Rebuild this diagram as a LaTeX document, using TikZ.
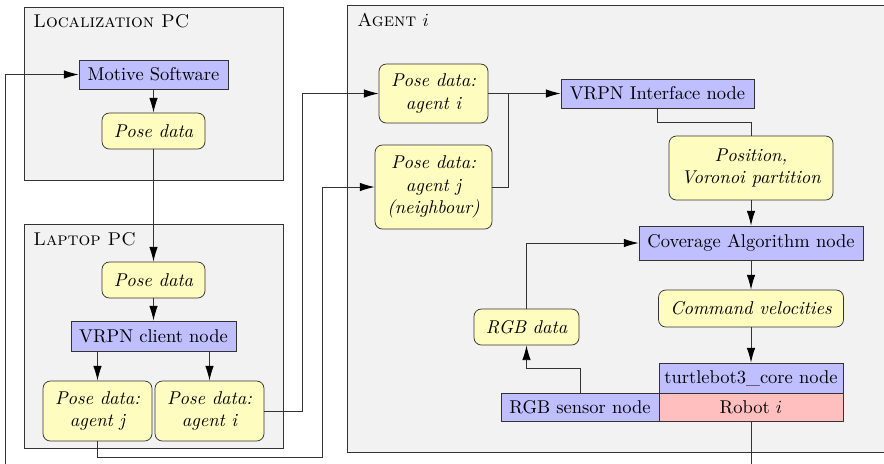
\documentclass[tikz,border=0pt]{standalone}
\usetikzlibrary{arrows.meta}
\begin{document}
\begin{tikzpicture}[x=0.5405pt,y=-0.5405pt,
  container/.style={draw=black!80, fill=gray!10, line width=0.5pt},
  sz/.style 2 args={minimum width=#1*0.5405pt, minimum height=#2*0.5405pt},
  procbox/.style={draw=black!80, fill=blue!25, rectangle, inner sep=0pt, align=center},
  robbox/.style={draw=black!80, fill=red!25, rectangle, inner sep=0pt, align=center},
  databox/.style={draw=black!80, fill=yellow!25, rectangle, rounded corners=4pt, inner sep=0pt, align=center, font=\itshape},
  title/.style={anchor=base west, inner sep=0pt},
  conn/.style={draw=black!80, line width=0.5pt},
  arr/.style={conn, -{Latex[length=8pt,width=4.6pt,color=black]}}]
\useasboundingbox (0,0) rectangle (884,463);
\clip (0,0) rectangle (884,463);

% containers
\draw[container] (24,7) rectangle (283,180);
\draw[container] (24,224) rectangle (283,448);
\draw[container] (347,5) rectangle (900,452);
\node[title] (tloc) at (33,27) {\textsc{Localization PC}};
\node[title] (tlap) at (33,245) {\textsc{Laptop PC}};
\node[title] (tag) at (357,26) {\textsc{Agent} $i$};

% Localization PC
\node[procbox, sz={149}{29}] (ms) at (153.5,74.5) {Motive Software};
\node[databox, sz={103}{36}] (pd1) at (153.5,131) {Pose data};

% Laptop PC
\node[databox, sz={103}{36}] (pd2) at (153.5,280) {Pose data};
\node[procbox, sz={165}{30}] (vc) at (153.5,336) {VRPN client node};
\node[databox, sz={109}{60}] (pj) at (97.5,411) {Pose data:\\agent j};
\node[databox, sz={109}{60}] (pi) at (209.5,411) {Pose data:\\agent i};

% Agent i
\node[databox, sz={109}{59}] (ai) at (433.5,93.5) {Pose data:\\agent i};
\node[databox, sz={117}{84}] (aj) at (433.5,187) {Pose data:\\agent j\\(neighbour)};
\node[procbox, sz={193}{29}] (vi) at (657.5,93.5) {VRPN Interface node};
\node[databox, sz={164}{64}] (pos) at (751,168) {Position,\\Voronoi partition};
\node[procbox, sz={224}{34}] (cov) at (751,243) {Coverage Algorithm node};
\node[databox, sz={185}{37}] (cmd) at (751,308.5) {Command velocities};
\node[procbox, sz={184}{30}] (tb) at (751,378) {turtlebot3\_core node};
\node[robbox, sz={184}{28}] (rob) at (751,407) {Robot $i$};
\node[procbox, sz={158}{28}] (rgbs) at (580,407) {RGB sensor node};
\node[databox, sz={105}{36}] (rgbd) at (526.5,327) {RGB data};

% coordinates
\coordinate (loopin) at (5,480);
\coordinate (robout) at (751,480);
\coordinate (jb) at (97.5,457);
\coordinate (jr) at (322,457);
\coordinate (ir) at (302,411);
\coordinate (join) at (508,93.5);

% connectors
\draw[arr] (loopin) |- (ms.west);
\draw[arr] (ms) -- (pd1);
\draw[arr] (pd1) -- (pd2);
\draw[arr] (pd2) -- (vc);
\draw[arr] (vc.south -| pj) -- (pj);
\draw[arr] (vc.south -| pi) -- (pi);
\draw[arr] (pi.east) -- (ir) |- (ai.west);
\draw[arr] (pj.south) -- (jb) -- (jr) |- (aj.west);
\draw[arr] (ai.east) -- (vi.west);
\draw[conn] (aj.east) -| (join);
\draw[conn] (vi.south) -- ++(0,14) -| (pos.north);
\draw[arr] (pos) -- (cov);
\draw[arr] (cov) -- (cmd);
\draw[arr] (cmd) -- (tb);
\draw[arr] (rgbs.north) -- ++(0,-24) -| (rgbd.south);
\draw[arr] (rgbd.north) |- (cov.west);
\draw[conn] (rob.south) -- (robout);
\end{tikzpicture}
\end{document}
